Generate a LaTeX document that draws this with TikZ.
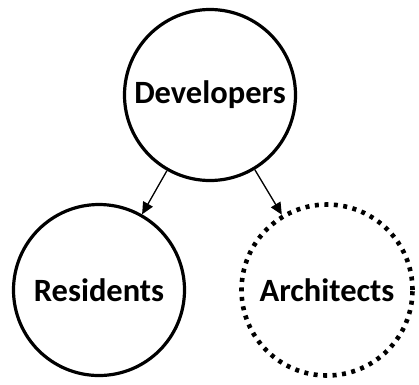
\documentclass[tikz,border=0pt]{standalone}
\usepackage{fontspec}
\setmainfont{Carlito}
\usetikzlibrary{arrows.meta}
\begin{document}
\begin{tikzpicture}[x=1pt,y=-1pt,
  circ/.style={circle,draw=black,line width=3.2pt,minimum size=171pt,inner sep=0pt,font=\fontsize{32.5}{38}\selectfont\bfseries},
  dotcirc/.style={circ,line width=4.6pt,dash pattern=on 4pt off 5.5pt},
  conn/.style={line width=1.3pt,-{Triangle[length=12pt,width=11pt]}}]
\useasboundingbox (0,0) rectangle (419,384);
\node[circ] (dev) at (210,95) {Developers};
\node[circ] (res) at (99,290) {Residents};
\node[dotcirc] (arc) at (327,290) {Architects};
\draw[conn] (dev) -- (res);
\draw[conn] (dev) -- (arc);
\end{tikzpicture}
\end{document}
